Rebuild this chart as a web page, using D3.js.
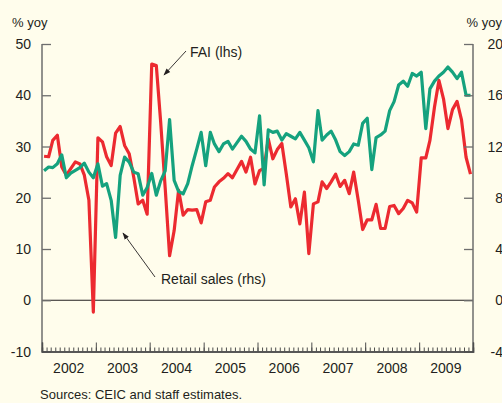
<!DOCTYPE html>
<html>
<head>
<meta charset="utf-8">
<script src="https://cdn.jsdelivr.net/npm/d3@7"></script>
<style>
  html, body { margin: 0; padding: 0; background: #FFFDEC; }
  svg { display: block; }
  text { font-family: 'Liberation Sans', Arial, sans-serif; fill: #231F20; }
</style>
</head>
<body>
<div id="chart"></div>
<script>
// monthly, Jan 2002 – Dec 2009
const startYear = 2002;
const years = ['2002', '2003', '2004', '2005', '2006', '2007', '2008', '2009'];

// FAI, % yoy (lhs)
const fai = [
  28.1, 28.0, 31.2, 32.2, 26.0, 24.4, 25.7, 27.0, 26.6, 24.4, 19.5, -2.3,
  31.7, 30.9, 28.0, 26.3, 32.6, 33.9, 30.2, 28.6, 24.0, 18.8, 19.5, 16.8,
  46.1, 45.8, 35.0, 22.0, 8.7, 13.6, 21.5, 16.6, 17.7, 17.6, 17.7, 15.1,
  19.2, 19.5, 22.1, 23.1, 23.8, 24.7, 23.9, 25.5, 27.1, 25.0, 27.9, 22.7,
  25.3, 25.8, 31.5, 27.6, 29.4, 30.6, 24.7, 18.2, 19.8, 14.9, 21.1, 9.1,
  18.8, 19.2, 23.1, 21.8, 23.1, 24.6, 22.2, 23.4, 20.8, 25.0, 19.5, 13.8,
  15.7, 15.7, 18.7, 14.0, 14.0, 18.3, 18.5, 16.9, 17.9, 19.5, 19.0, 17.2,
  27.8, 27.8, 31.2, 37.7, 42.9, 39.3, 33.5, 37.2, 38.8, 35.2, 27.9, 24.6
];

// Retail sales, % yoy (rhs)
const retail = [
  10.1, 10.4, 10.35, 10.65, 11.35, 9.56, 9.92, 10.13, 10.35, 10.7, 10.0, 9.56,
  10.65, 8.9, 9.1, 7.8, 4.9, 9.74, 11.17, 10.78, 10.0, 9.87, 8.2, 8.8,
  9.9, 8.2, 9.3, 10.1, 14.1, 9.35, 8.5, 8.3, 9.1, 10.5, 11.8, 13.1,
  10.5, 13.1, 12.2, 11.6, 12.2, 12.4, 11.8, 12.3, 12.8, 12.4, 11.8, 11.5,
  14.4, 9.0, 13.3, 13.1, 13.2, 12.5, 13.0, 12.8, 12.6, 13.1, 12.5, 11.9,
  10.8, 14.8, 12.5, 12.9, 13.2, 12.5, 11.6, 11.3, 11.6, 12.2, 12.1, 13.8,
  14.2, 10.2, 12.7, 12.9, 13.2, 14.8, 15.5, 16.8, 17.1, 16.7, 17.7, 17.5,
  17.8, 13.4, 16.5, 17.1, 17.5, 17.8, 18.2, 17.8, 17.3, 17.8, 16.0, 16.0
];

const lhsTicks = [-10, 0, 10, 20, 30, 40, 50];
const rhsTicks = [-4, 0, 4, 8, 12, 16, 20];

const W = 502, H = 403;
const L = 42, R = 473, T = 44, B = 351.5;

const svg = d3.select('#chart').append('svg')
  .attr('width', W).attr('height', H);

svg.append('rect').attr('width', W).attr('height', H).attr('fill', '#FFFDEC');

const x = d3.scaleTime()
  .domain([new Date(2002, 0, 1), new Date(2010, 0, 1)])
  .range([L, R]);
const yL = d3.scaleLinear().domain([-10, 50]).range([B, T]);
const yR = d3.scaleLinear().domain([-4, 20]).range([B, T]);

const dateOf = i => new Date(startYear, i, 15);

// zero line
svg.append('line')
  .attr('x1', L).attr('x2', R)
  .attr('y1', yL(0)).attr('y2', yL(0))
  .attr('stroke', '#231F20').attr('stroke-width', 1.2);

// lines
const lineL = d3.line().x((d, i) => x(dateOf(i))).y(d => yL(d));
const lineR = d3.line().x((d, i) => x(dateOf(i))).y(d => yR(d));

svg.append('path').datum(fai)
  .attr('d', lineL)
  .attr('fill', 'none').attr('stroke', '#EC2A30')
  .attr('stroke-width', 3.2).attr('stroke-linejoin', 'round');

svg.append('path').datum(retail)
  .attr('d', lineR)
  .attr('fill', 'none').attr('stroke', '#15A27E')
  .attr('stroke-width', 3.2).attr('stroke-linejoin', 'round');

// axes
const axisColor = '#6E6E6E';
const gL = svg.append('g').attr('transform', `translate(${L},0)`)
  .call(d3.axisRight(yL).tickValues(lhsTicks).tickSize(9).tickFormat(''));
const gR = svg.append('g').attr('transform', `translate(${R},0)`)
  .call(d3.axisLeft(yR).tickValues(rhsTicks).tickSize(9).tickFormat(''));
[gL, gR].forEach(g => {
  g.select('.domain').remove();
  g.selectAll('line').attr('stroke', axisColor).attr('stroke-width', 1.3);
});
svg.append('line').attr('x1', L).attr('x2', L).attr('y1', T).attr('y2', B + 1)
  .attr('stroke', axisColor).attr('stroke-width', 1.5);
svg.append('line').attr('x1', R).attr('x2', R).attr('y1', T).attr('y2', B + 1)
  .attr('stroke', axisColor).attr('stroke-width', 1.5);

svg.append('g').selectAll('text').data(lhsTicks).join('text')
  .attr('x', 31).attr('y', d => yL(d)).attr('dy', '0.36em')
  .attr('text-anchor', 'end').attr('font-size', 14).text(d => d);
svg.append('g').selectAll('text').data(rhsTicks).join('text')
  .attr('x', 503).attr('y', d => yR(d)).attr('dy', '0.36em')
  .attr('text-anchor', 'end').attr('font-size', 14).text(d => d);

// bottom axis: monthly minor, yearly major ticks
const gB = svg.append('g').attr('transform', `translate(0,${B})`);
gB.call(d3.axisTop(x).ticks(d3.timeMonth.every(1)).tickSize(4).tickFormat(''));
gB.append('g')
  .call(d3.axisTop(x).ticks(d3.timeYear.every(1)).tickSize(9).tickFormat(''));
gB.selectAll('.domain').attr('stroke', '#4D4D4D').attr('stroke-width', 1.5);
gB.selectAll('line').attr('stroke', '#4D4D4D').attr('stroke-width', 1);

svg.append('g').selectAll('text').data(years).join('text')
  .attr('x', d => x(new Date(+d, 6, 1)))
  .attr('y', 373)
  .attr('text-anchor', 'middle').attr('font-size', 14).text(d => d);

// units
svg.append('text').attr('x', 12).attr('y', 27).attr('font-size', 13).text('% yoy');
svg.append('text').attr('x', 502).attr('y', 27).attr('text-anchor', 'end')
  .attr('font-size', 13).text('% yoy');

// annotations
svg.append('defs').append('marker')
  .attr('id', 'arr').attr('viewBox', '0 0 10 10')
  .attr('refX', 9).attr('refY', 5)
  .attr('markerWidth', 8).attr('markerHeight', 8)
  .attr('orient', 'auto-start-reverse')
  .append('path').attr('d', 'M0,1.5 L10,5 L0,8.5 Z').attr('fill', '#231F20');

svg.append('line').attr('x1', 186).attr('y1', 51).attr('x2', 164).attr('y2', 75)
  .attr('stroke', '#231F20').attr('stroke-width', 0.9).attr('marker-end', 'url(#arr)');
svg.append('text').attr('x', 190).attr('y', 56.5).attr('font-size', 14).text('FAI (lhs)');

svg.append('line').attr('x1', 155).attr('y1', 277).attr('x2', 123).attr('y2', 233)
  .attr('stroke', '#231F20').attr('stroke-width', 0.9).attr('marker-end', 'url(#arr)');
svg.append('text').attr('x', 161).attr('y', 284).attr('font-size', 14).text('Retail sales (rhs)');

svg.append('text').attr('x', 40).attr('y', 399).attr('font-size', 13)
  .text('Sources: CEIC and staff estimates.');
</script>
</body>
</html>
